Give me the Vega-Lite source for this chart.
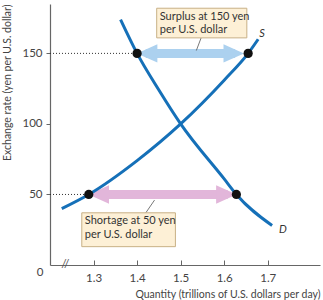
{
  "$schema": "https://vega.github.io/schema/vega-lite/v6.json",
  "width": 270,
  "height": 261,
  "autosize": "none",
  "padding": {"left": 50, "top": 4, "right": 3, "bottom": 35},
  "background": "white",
  "config": {
    "view": {"stroke": null},
    "font": "Lato",
    "axis": {"domainColor": "#666", "tickColor": "#666", "labelColor": "#444", "titleColor": "#444", "labelFont": "Lato", "titleFont": "Lato", "grid": false, "labelFontSize": 11.5, "titleFontSize": 10.5, "titleFontWeight": "normal", "domainWidth": 1.2}
  },
  "datasets": {
    "curves": [
      {"q": 1.362, "rate": 174, "curve": "D"},
      {"q": 1.4, "rate": 150, "curve": "D"},
      {"q": 1.45, "rate": 124, "curve": "D"},
      {"q": 1.5, "rate": 100, "curve": "D"},
      {"q": 1.6, "rate": 61, "curve": "D"},
      {"q": 1.628, "rate": 50, "curve": "D"},
      {"q": 1.71, "rate": 28, "curve": "D"},
      {"q": 1.227, "rate": 40, "curve": "S"},
      {"q": 1.289, "rate": 50, "curve": "S"},
      {"q": 1.4, "rate": 74, "curve": "S"},
      {"q": 1.5, "rate": 100, "curve": "S"},
      {"q": 1.6, "rate": 131, "curve": "S"},
      {"q": 1.655, "rate": 150, "curve": "S"},
      {"q": 1.678, "rate": 160, "curve": "S"}
    ],
    "dots": [
      {"q": 1.4, "rate": 150},
      {"q": 1.655, "rate": 150},
      {"q": 1.289, "rate": 50},
      {"q": 1.628, "rate": 50}
    ],
    "dotted": [
      {"q": 1.2, "q2": 1.4, "rate": 150},
      {"q": 1.2, "q2": 1.289, "rate": 50}
    ],
    "shafts": [
      {"q": 1.42, "q2": 1.625, "rate": 150, "kind": "surplus"},
      {"q": 1.31, "q2": 1.608, "rate": 50, "kind": "shortage"}
    ],
    "heads": [
      {"q": 1.423, "rate": 150, "dir": "left", "kind": "surplus"},
      {"q": 1.622, "rate": 150, "dir": "right", "kind": "surplus"},
      {"q": 1.312, "rate": 50, "dir": "left", "kind": "shortage"},
      {"q": 1.605, "rate": 50, "dir": "right", "kind": "shortage"}
    ],
    "boxes": [
      {"q": 1.445, "q2": 1.652, "rate": 182, "rate2": 161},
      {"q": 1.273, "q2": 1.488, "rate": 37, "rate2": 13}
    ],
    "leaders": [
      {"q": 1.547, "q2": 1.536, "rate": 161, "rate2": 152},
      {"q": 1.44, "q2": 1.42, "rate": 46, "rate2": 37}
    ],
    "boxtext": [
      {"q": 1.452, "rate": 176, "label": "Surplus at 150 yen"},
      {"q": 1.452, "rate": 166.5, "label": "per U.S. dollar"},
      {"q": 1.28, "rate": 31.5, "label": "Shortage at 50 yen"},
      {"q": 1.28, "rate": 21, "label": "per U.S. dollar"}
    ],
    "curvelabels": [
      {"q": 1.687, "rate": 164, "label": "S"},
      {"q": 1.735, "rate": 25, "label": "D"}
    ]
  },
  "encoding": {
    "x": {"field": "q", "type": "quantitative"},
    "y": {"field": "rate", "type": "quantitative"}
  },
  "layer": [
    {
      "data": {"name": "dotted"},
      "mark": {"type": "rule", "strokeDash": [1, 2], "color": "#333", "strokeWidth": 1},
      "encoding": {
        "x": {"field": "q", "type": "quantitative", "scale": {"domain": [1.2, 1.82], "nice": false, "zero": false},
          "axis": {"values": [1.3, 1.4, 1.5, 1.6, 1.7], "format": ".1f", "tickSize": -5, "labelPadding": 12, "title": "Quantity (trillions of U.S. dollars per day)", "titleAnchor": "end", "titlePadding": 6}},
        "x2": {"field": "q2"},
        "y": {"field": "rate", "type": "quantitative", "scale": {"domain": [0, 185], "nice": false},
          "axis": {"values": [50, 100, 150], "tickSize": 4, "labelPadding": 4, "title": "Exchange rate (yen per U.S. dollar)", "titleAnchor": "end", "titlePadding": 9}}
      }
    },
    {
      "data": {"name": "shafts"},
      "mark": {"type": "rule", "strokeWidth": 9},
      "encoding": {
        "x2": {"field": "q2"},
        "color": {"field": "kind", "type": "nominal", "scale": {"domain": ["surplus", "shortage"], "range": ["#acd1ef", "#e2b6da"]}, "legend": null}
      }
    },
    {
      "data": {"name": "heads"},
      "mark": {"type": "point", "filled": true, "opacity": 1, "size": 420},
      "encoding": {
        "shape": {"field": "dir", "type": "nominal", "scale": {"domain": ["left", "right"], "range": ["M1,-0.9L-1,0L1,0.9Z", "M-1,-0.9L1,0L-1,0.9Z"]}, "legend": null},
        "color": {"field": "kind", "type": "nominal", "scale": {"domain": ["surplus", "shortage"], "range": ["#acd1ef", "#e2b6da"]}, "legend": null}
      }
    },
    {
      "data": {"name": "leaders"},
      "mark": {"type": "rule", "color": "#555", "strokeWidth": 0.8},
      "encoding": {"x2": {"field": "q2"}, "y2": {"field": "rate2"}}
    },
    {
      "data": {"name": "boxes"},
      "mark": {"type": "rect", "fill": "#fdf0d6", "stroke": "#c8b085", "strokeWidth": 1},
      "encoding": {"x2": {"field": "q2"}, "y2": {"field": "rate2"}}
    },
    {
      "data": {"name": "boxtext"},
      "mark": {"type": "text", "align": "left", "baseline": "middle", "fontSize": 11, "font": "Lato", "color": "#333"},
      "encoding": {"text": {"field": "label"}}
    },
    {
      "data": {"name": "curves"},
      "mark": {"type": "line", "interpolate": "monotone", "strokeWidth": 3, "color": "#1570b8"},
      "encoding": {"detail": {"field": "curve"}}
    },
    {
      "data": {"name": "dots"},
      "mark": {"type": "point", "filled": true, "opacity": 1, "size": 85, "color": "#111"}
    },
    {
      "data": {"name": "curvelabels"},
      "mark": {"type": "text", "align": "center", "baseline": "middle", "fontSize": 11, "fontStyle": "italic", "font": "Lato", "color": "#333"},
      "encoding": {"text": {"field": "label"}}
    },
    {
      "data": {"values": [{"q": 1.2, "rate": 0, "label": "0"}]},
      "mark": {"type": "text", "align": "center", "baseline": "middle", "fontSize": 11.5, "font": "Lato", "color": "#444", "dx": -10, "dy": 8},
      "encoding": {"text": {"field": "label"}}
    },
    {
      "data": {"values": [{"q": 1.235, "rate": 0, "label": "//"}]},
      "mark": {"type": "text", "align": "center", "baseline": "middle", "fontSize": 12, "font": "Lato", "color": "#555", "dy": -1},
      "encoding": {"text": {"field": "label"}}
    }
  ]
}
